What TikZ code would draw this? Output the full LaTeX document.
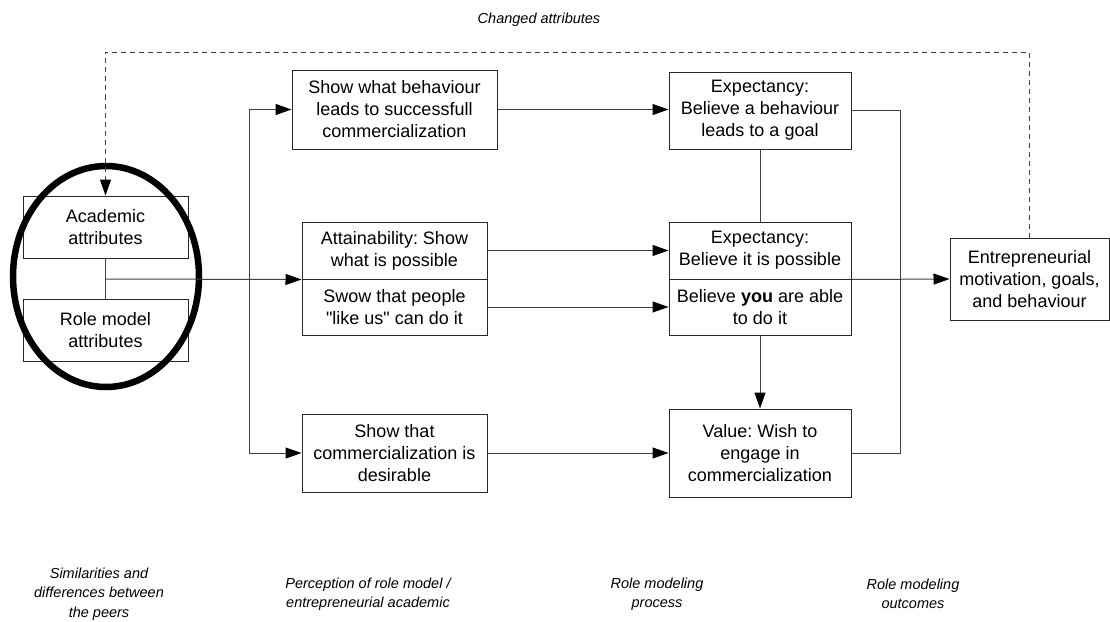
\documentclass[tikz,border=0pt]{standalone}
\usepackage{fontspec}
\setmainfont{Liberation Sans}[Ligatures=TeXOff]
\frenchspacing
\usetikzlibrary{arrows.meta,calc}

\tikzset{
  box/.style={draw=black!85, line width=1pt, rectangle, inner sep=0pt, align=center,
              font=\fontsize{18}{22}\selectfont},
  conn/.style={draw=black!75, line width=1pt},
  arr/.style={conn, -{Triangle[length=16pt,width=11pt,color=black]}},
  lbl/.style={align=center, font=\fontsize{14.5}{19.5}\selectfont\itshape},
  ring/.style={draw=black, line width=6.5pt},
}

\begin{document}
\begin{tikzpicture}[x=1pt,y=-1pt]
  \useasboundingbox (0,0) rectangle (1110,621);

  % similarities between the peers
  \node[box, minimum width=165, minimum height=62] (acad) at (105.5,227) {Academic\\attributes};
  \node[box, minimum width=165, minimum height=62] (role) at (105.5,330) {Role model\\attributes};
  \draw[ring] (106,276.5) ellipse [x radius=93, y radius=110.5];

  % perception of the role model
  \node[box, minimum width=205, minimum height=79] (show) at (394.5,109.5)
    {Show what behaviour\\leads to successfull\\commercialization};
  \node[box, minimum width=185, minimum height=57] (attu) at (394.5,250.5)
    {Attainability: Show\\what is possible};
  \node[box, minimum width=185, minimum height=56] (attl) at (394.5,307)
    {Swow that people\\"like us" can do it};
  \node[box, minimum width=185, minimum height=78] (desi) at (394.5,453)
    {Show that\\commercialization is\\desirable};

  % role modeling process
  \node[box, minimum width=182, minimum height=77] (expa) at (760,110.5)
    {Expectancy:\\Believe a behaviour\\leads to a goal};
  \node[box, minimum width=182, minimum height=57] (expu) at (760,250.5)
    {Expectancy:\\Believe it is possible};
  \node[box, minimum width=182, minimum height=56] (expl) at (760,307)
    {Believe \textbf{you} are able\\to do it};
  \node[box, minimum width=182, minimum height=88] (valu) at (760,453)
    {Value: Wish to\\engage in\\commercialization};

  % outcomes
  \node[box, minimum width=159, minimum height=82] (outc) at (1029.5,279)
    {Entrepreneurial\\motivation, goals,\\and behaviour};

  % junctions
  \coordinate (j0) at (106,279);
  \coordinate (j1) at (249,279);
  \coordinate (j2) at (900,279);
  \coordinate (top) at (0,52);

  % peers to perception
  \draw[conn] (acad.south) -- (role.north);
  \draw[arr] (j0) -- (attu.south west);
  \draw[arr] (j1) |- (show.west);
  \draw[arr] (j1) |- (desi.west);

  % perception to process
  \draw[arr] (show.east) -- (show.east -| expa.west);
  \draw[arr] (attu.east) -- (attu.east -| expu.west);
  \draw[arr] (attl.east) -- (attl.east -| expl.west);
  \draw[arr] (desi.east) -- (desi.east -| valu.west);

  % within the process
  \draw[conn] (expa.south) -- (expu.north);
  \draw[arr] (expl.south) -- (valu.north);

  % process to outcomes
  \draw[conn] (expa.east) -| (j2) |- (valu.east);
  \draw[arr] (expu.south east) -- (outc.west);

  % feedback loop
  \draw[arr, dash pattern=on 5pt off 4pt]
    (outc.north) -- (outc.north |- top) -- (acad.north |- top) -- (acad.north);

  % captions
  \node[lbl] (capchg) at (539,20) {Changed attributes};
  \node[lbl] (cap1) at (99,594) {Similarities and\\differences between\\the peers};
  \node[lbl] (cap2) at (368,594) {Perception of role model /\\entrepreneurial academic};
  \node[lbl] (cap3) at (657,594) {Role modeling\\process};
  \node[lbl] (cap4) at (913,594) {Role modeling\\outcomes};
\end{tikzpicture}
\end{document}
